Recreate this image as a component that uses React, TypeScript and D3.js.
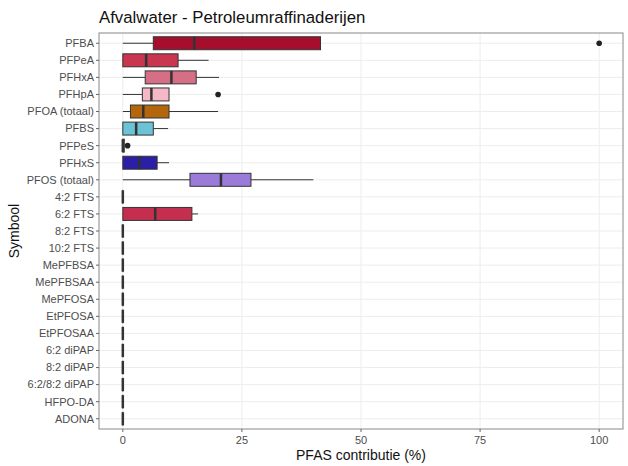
import React from "react";
import * as d3 from "d3";

const categories = ["PFBA","PFPeA","PFHxA","PFHpA","PFOA (totaal)","PFBS","PFPeS","PFHxS","PFOS (totaal)","4:2 FTS","6:2 FTS","8:2 FTS","10:2 FTS","MePFBSA","MePFBSAA","MePFOSA","EtPFOSA","EtPFOSAA","6:2 diPAP","8:2 diPAP","6:2/8:2 diPAP","HFPO-DA","ADONA"];
const whiskerLow = [0,0,0,0,0,0,0,0,0,0,0,0,0,0,0,0,0,0,0,0,0,0,0];
const q1 = [6.4,0,4.7,4.1,1.6,0,0,0,14.1,0,0,0,0,0,0,0,0,0,0,0,0,0,0];
const median = [15,4.9,10.2,6,4.3,2.8,0,3.5,20.6,0,6.8,0,0,0,0,0,0,0,0,0,0,0,0];
const q3 = [41.5,11.6,15.4,9.7,9.7,6.4,0.3,7.2,26.9,0,14.5,0,0,0,0,0,0,0,0,0,0,0,0];
const whiskerHigh = [41.5,18,20.2,9.7,20,9.5,0.3,9.7,40,0,15.8,0,0,0,0,0,0,0,0,0,0,0,0];
const outlierCat = ["PFBA","PFHpA","PFPeS"];
const outlierVal = [100,20,1];
const fills = ["#a50f2d","#c8364f","#d66f86","#f4b8c6","#b3660c","#6cc3d5","#333333","#2b1fa6","#9b7bd9","#333333","#c52f4f","#333333","#333333","#333333","#333333","#333333","#333333","#333333","#333333","#333333","#333333","#333333","#333333"];
const xTicks = [0,25,50,75,100];

export default function App() {
  const W = 628, H = 466;
  const left = 99, right = 623, top = 33, bottom = 429;
  const x = d3.scaleLinear().domain([-5, 105]).range([left, right]);
  const y = d3.scalePoint<string>().domain(categories).range([top, bottom]).padding(0.6);
  const step = y.step();
  const bh = step * 0.76;
  const font = "Liberation Sans, Arial, sans-serif";
  return (
    <svg width={W} height={H} style={{ position: "absolute", left: 0, top: 0, background: "#fff" }} fontFamily={font}>
      <rect x={0} y={0} width={W} height={H} fill="#fff" />
      {xTicks.map((t) => (
        <line key={"gx" + t} x1={x(t)} x2={x(t)} y1={top} y2={bottom} stroke="#ededed" strokeWidth={1} />
      ))}
      {categories.map((c) => (
        <line key={"gy" + c} x1={left} x2={right} y1={y(c)} y2={y(c)} stroke="#ededed" strokeWidth={1} />
      ))}
      {categories.map((c, i) => {
        const cy = y(c)!;
        return (
          <g key={"b" + c}>
            <line x1={x(whiskerLow[i])} x2={x(q1[i])} y1={cy} y2={cy} stroke="#333" strokeWidth={1} />
            <line x1={x(q3[i])} x2={x(whiskerHigh[i])} y1={cy} y2={cy} stroke="#333" strokeWidth={1} />
            <rect x={x(q1[i])} y={cy - bh / 2} width={Math.max(x(q3[i]) - x(q1[i]), 0.01)} height={bh} fill={fills[i]} stroke="#333" strokeWidth={1} />
            <line x1={x(median[i])} x2={x(median[i])} y1={cy - bh / 2} y2={cy + bh / 2} stroke="#333" strokeWidth={2.5} />
          </g>
        );
      })}
      {outlierCat.map((c, i) => (
        <circle key={"o" + i} cx={x(outlierVal[i])} cy={y(c)} r={2.8} fill="#222" />
      ))}
      <rect x={left} y={top} width={right - left} height={bottom - top} fill="none" stroke="#888" strokeWidth={1} />
      {categories.map((c) => (
        <g key={"yt" + c}>
          <line x1={left - 3} x2={left} y1={y(c)} y2={y(c)} stroke="#666" />
          <text x={left - 5} y={y(c)} dy="0.35em" textAnchor="end" fontSize={11} fill="#4d4d4d">{c}</text>
        </g>
      ))}
      {xTicks.map((t) => (
        <g key={"xt" + t}>
          <line x1={x(t)} x2={x(t)} y1={bottom} y2={bottom + 3} stroke="#666" />
          <text x={x(t)} y={bottom + 15} textAnchor="middle" fontSize={11} fill="#4d4d4d">{t}</text>
        </g>
      ))}
      <text x={(left + right) / 2} y={460} textAnchor="middle" fontSize={14} fill="#111">PFAS contributie (%)</text>
      <text transform={`translate(19,${(top + bottom) / 2}) rotate(-90)`} textAnchor="middle" fontSize={14} fill="#111">Symbool</text>
      <text x={left} y={23} fontSize={16.8} fill="#111">Afvalwater - Petroleumraffinaderijen</text>
    </svg>
  );
}
